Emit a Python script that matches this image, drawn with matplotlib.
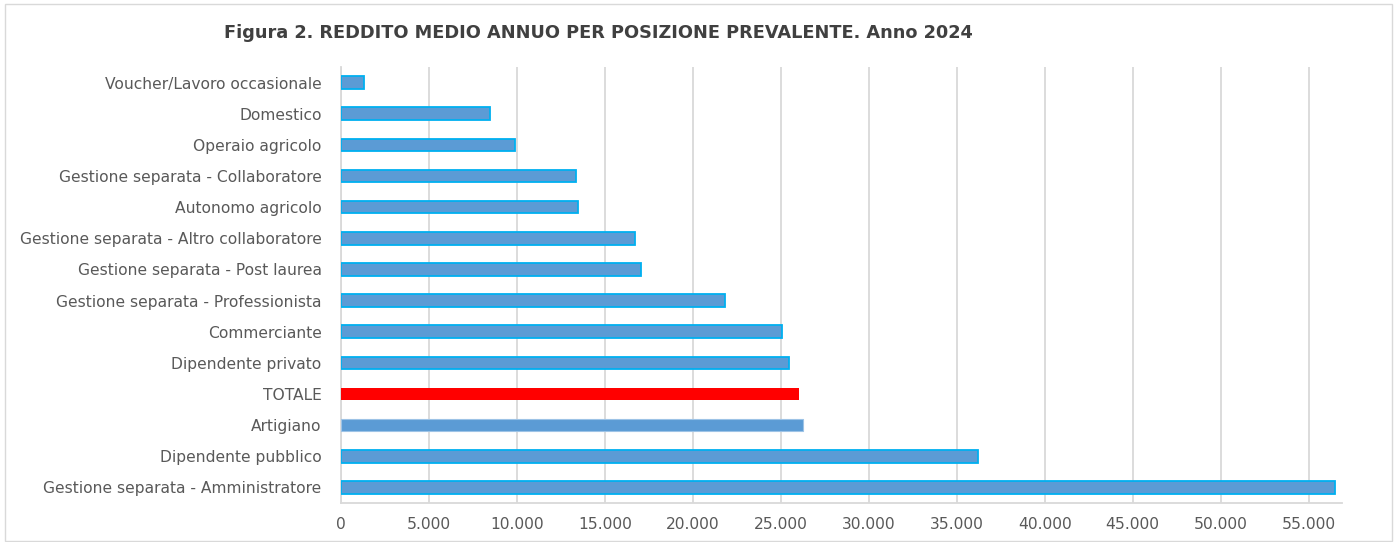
import matplotlib
matplotlib.use('Agg')
import matplotlib.pyplot as plt
from matplotlib.ticker import FuncFormatter

# categories from top to bottom as in the figure
categories = [
    'Voucher/Lavoro occasionale',
    'Domestico',
    'Operaio agricolo',
    'Gestione separata - Collaboratore',
    'Autonomo agricolo',
    'Gestione separata - Altro collaboratore',
    'Gestione separata - Post laurea',
    'Gestione separata - Professionista',
    'Commerciante',
    'Dipendente privato',
    'TOTALE',
    'Artigiano',
    'Dipendente pubblico',
    'Gestione separata - Amministratore',
]
values = [1310, 8480, 9910, 13380, 13500, 16740, 17080,
          21810, 25060, 25460, 26020, 26250, 36220, 56490]

xticks = list(range(0, 55001, 5000))

BLUE = '#5B9BD5'
CYAN = '#00B0F0'
RED = '#FF0000'
GRID = '#D9D9D9'
TXT = '#595959'

fig = plt.figure(figsize=(13.97, 5.42), dpi=100)
ax = fig.add_axes([341 / 1397, 1 - 503 / 542, (1342 - 341) / 1397, (503 - 67) / 542])

ypos = list(range(len(categories)))
for y, cat, v in zip(ypos, categories, values):
    if cat == 'TOTALE':
        ax.barh(y, v, height=0.4, color=RED, edgecolor='none', zorder=3)
    elif cat == 'Artigiano':
        ax.barh(y, v, height=0.4, color=BLUE, edgecolor='#9DC3E6', lw=0.8, zorder=3)
    else:
        ax.barh(y, v, height=0.4, color=BLUE, edgecolor=CYAN, lw=1.3, zorder=3)

ax.set_ylim(len(categories) - 0.5, -0.5)
ax.set_xlim(0, 56900)
ax.set_yticks(ypos)
ax.set_yticklabels(categories)
ax.set_xticks(xticks)
ax.xaxis.set_major_formatter(FuncFormatter(lambda x, _: f'{int(x):,}'.replace(',', '.')))
ax.tick_params(axis='both', length=0, colors=TXT, labelsize=11.2)
ax.tick_params(axis='y', pad=14)
ax.tick_params(axis='x', pad=10)

ax.grid(axis='x', color=GRID, lw=1.3, zorder=0)
for s in ['top', 'right']:
    ax.spines[s].set_visible(False)
for s in ['left', 'bottom']:
    ax.spines[s].set_color(GRID)
    ax.spines[s].set_linewidth(1.3)

fig.text(598 / 1397, 1 - 33 / 542, 'Figura 2. REDDITO MEDIO ANNUO PER POSIZIONE PREVALENTE. Anno 2024',
         ha='center', va='center', fontsize=12.8, fontweight='bold', color='#404040')

# chart border
border = plt.Rectangle((5 / 1397, 0.002), 1387 / 1397, 0.99, transform=fig.transFigure,
                       fill=False, edgecolor=GRID, lw=1)
fig.patches.append(border)

fig.savefig('out.png', dpi=100)
